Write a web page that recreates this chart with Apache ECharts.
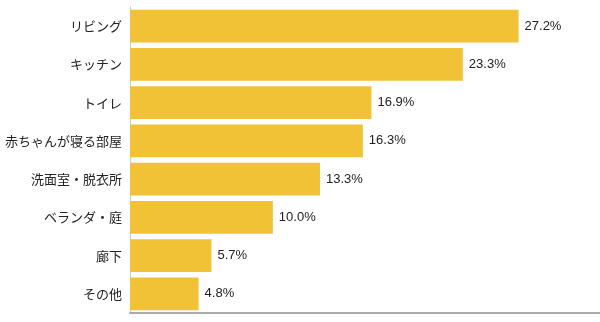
<!DOCTYPE html>
<html><head><meta charset="utf-8">
<script src="https://cdn.jsdelivr.net/npm/echarts@6/dist/echarts.min.js"></script>
<style>html,body{margin:0;padding:0;background:#fff}#c{width:600px;height:322px}</style>
</head><body><div id="c"></div>
<script>
const categories = ["リビング","キッチン","トイレ","赤ちゃんが寝る部屋","洗面室・脱衣所","ベランダ・庭","廊下","その他"];
const values = [27.2, 23.3, 16.9, 16.3, 13.3, 10.0, 5.7, 4.8];
const xMax = 32.9;

const chart = echarts.init(document.getElementById('c'), null, {renderer:'canvas'});
chart.setOption({
  animation: false,
  grid: {left: 130, right: 0, top: 7, bottom: 9, containLabel: false},
  xAxis: {
    type: 'value', min: 0, max: xMax,
    axisLine: {show: true, lineStyle: {color: '#aaaaaa', width: 2}},
    axisTick: {show: false}, axisLabel: {show: false}, splitLine: {show: false}
  },
  yAxis: {
    type: 'category', data: categories, inverse: true,
    axisLine: {show: true, lineStyle: {color: '#cccccc', width: 1}},
    axisTick: {show: false},
    axisLabel: {color: '#222', fontSize: 13, margin: 8, fontFamily: '"Noto Sans CJK JP", sans-serif'}
  },
  series: [{
    type: 'bar', data: values, barCategoryGap: '15%',
    itemStyle: {color: '#F2C236'},
    label: {show: true, position: 'right', distance: 6, color: '#222', fontSize: 13,
      fontFamily: '"Liberation Sans", Arial, sans-serif',
      formatter: p => p.value.toFixed(1) + '%'}
  }]
});
</script></body></html>
